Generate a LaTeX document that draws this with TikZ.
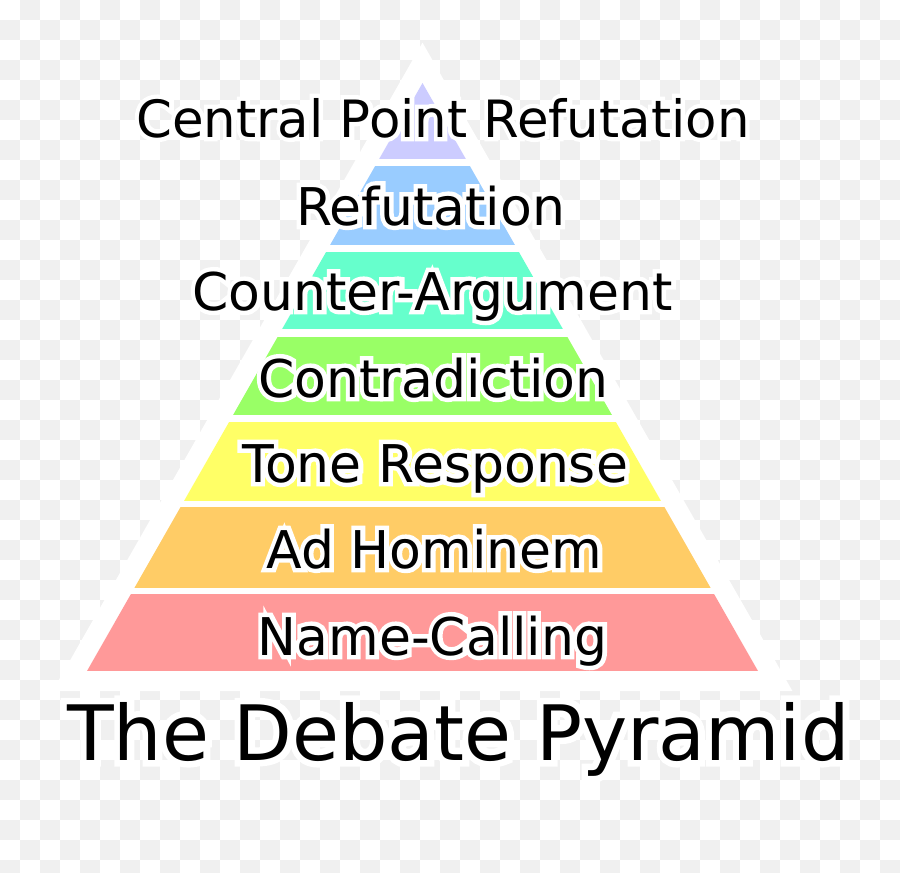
\documentclass[tikz,border=0pt]{standalone}
\usepackage{fontspec}
\setmainfont{DejaVu Sans}
\newfontfamily\halofont[FakeBold=17]{DejaVu Sans}
\definecolor{checker}{HTML}{F0F0F0}
\definecolor{lavender}{HTML}{CCCCFF}
\definecolor{skyblue}{HTML}{99CCFF}
\definecolor{aqua}{HTML}{66FFCC}
\definecolor{lgreen}{HTML}{99FF66}
\definecolor{lyellow}{HTML}{FFFF66}
\definecolor{lorange}{HTML}{FFCC66}
\definecolor{lpink}{HTML}{FF9999}
\def\band(#1:#2)#3{\fill[#3] (0,#1) rectangle (900,#2);}
\def\halo#1{\rlap{\halofont\color{white}#1}#1}
\tikzset{lbl/.style={anchor=base, font=\fontsize{26pt}{30pt}\selectfont}}

\begin{document}
\begin{tikzpicture}[x=0.5pt,y=-0.5pt]
			%%%%% START %%%%%
			\useasboundingbox (0,0) rectangle (900,873);
			\fill[white] (0,0) rectangle (900,873);
			
			% checker background
			\begin{scope}
			\clip (0,0) rectangle (900,873);
			\foreach \j in {0,...,43}{
				\pgfmathtruncatemacro\s{mod(\j+1,2)}
				\pgfmathtruncatemacro\t{\s+2}
				\foreach \i in {\s,\t,...,44}
					\fill[checker] (20*\i,20*\j) rectangle ++(20,20);
			}
			\end{scope}
			
			\coordinate (apex) at (422.5,83);
			\coordinate (bl) at (87,671);
			\coordinate (br) at (758,671);
			
			\draw[white, fill=white, line width=20pt, line join=miter] (apex) -- (bl) -- (br) -- cycle;
			
			\begin{scope}
			\clip (apex) -- (bl) -- (br) -- cycle;
			\band(83:159){lavender}
			\band(166:245){skyblue}
			\band(252:329){aqua}
			\band(337:415){lgreen}
			\band(422:501){lyellow}
			\band(507:588){lorange}
			\band(594:671){lpink}
			\end{scope}
			
			\node[lbl, font=\fontsize{25.7pt}{30pt}\selectfont] (cpr) at (443,137) {\halo{Central Point Refutation}};
			\node[lbl] (ref) at (430.5,225) {\halo{Refutation}};
			\node[lbl] (cntarg) at (432.5,310) {\halo{Counter-Argument}};
			\node[lbl] (contra) at (433.5,397) {\halo{Contradiction}};
			\node[lbl] (tone) at (435,482) {\halo{Tone Response}};
			\node[lbl] (adhom) at (434.5,568) {\halo{Ad Hominem}};
			\node[lbl] (namecall) at (432.5,655) {\halo{Name-Calling}};
			
			\node[anchor=base, font=\fontsize{38.2pt}{44pt}\selectfont] (title) at (458.5,760) {\halo{The Debate Pyramid}};
			%%%%% END %%%%%
\end{tikzpicture}
\end{document}
